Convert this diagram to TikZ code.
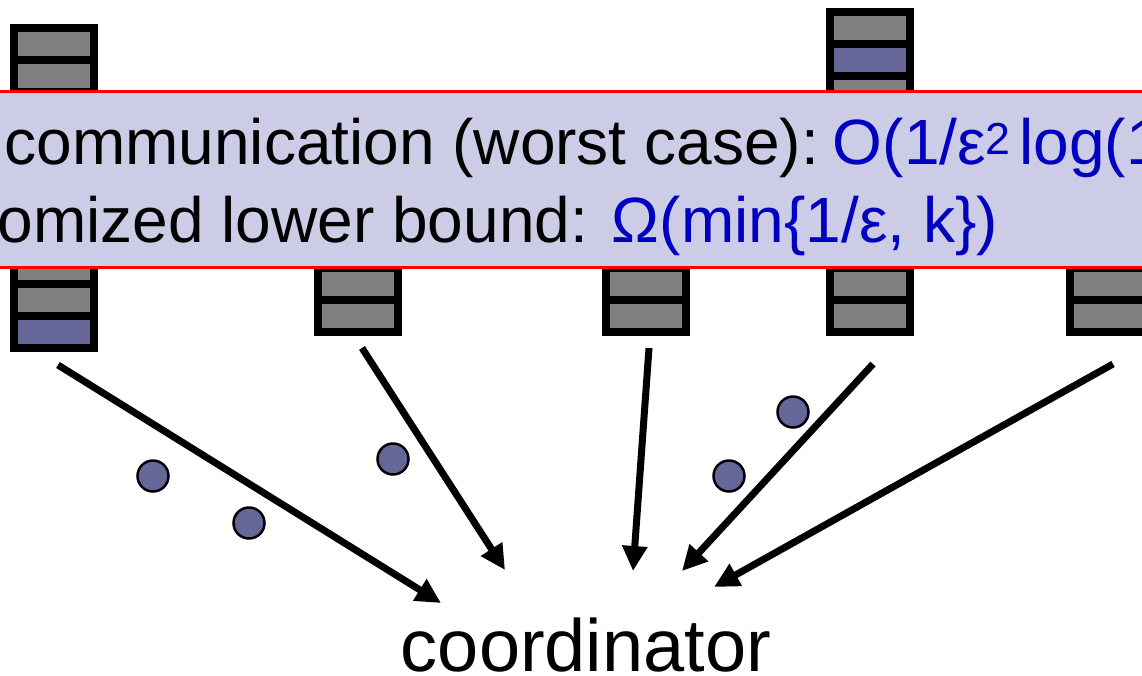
\documentclass[tikz,border=0pt]{standalone}
\usepackage{fontspec}
\setmainfont{Liberation Sans}
\usetikzlibrary{arrows.meta}
\usetikzlibrary{positioning}
\definecolor{slot}{HTML}{808080}
\definecolor{item}{HTML}{666699}
\definecolor{panelfill}{HTML}{CCCCE6}
\definecolor{bound}{RGB}{0,0,192}

\begin{document}
\begin{tikzpicture}[%
        x=1pt, y=-1pt,
        every node/.style={inner sep=0pt, outer sep=0pt},
        cell/.style={rectangle, draw=black, line width=8pt, fill=slot, minimum width=80pt, minimum height=32pt},
        hit/.style={cell, fill=item},
        msg/.style={circle, draw=black, line width=2.5pt, fill=item, minimum size=31pt},
        say/.style={font=\fontsize{64pt}{77pt}\selectfont, anchor=base west},
        send/.style={->, line width=7pt},
        node distance=0pt, >={Triangle[length=25pt,width=24pt]}
      ]
      \useasboundingbox (0,0) rectangle (1142,675);
      \clip (0,0) rectangle (1142,675);
      % site 1
      \node [cell] (a1) at (54,44) {};
      \foreach \i [evaluate=\i as \j using int(\i-1)] in {2,...,9}
        \node [cell, below=of a\j] (a\i) {};
      \node [hit, below=of a9] (a10) {};
      % sites 2, 3, 5
      \node [cell] (b1) at (358,284) {};
      \node [cell, below=of b1] (b2) {};
      \node [cell] (c1) at (646,284) {};
      \node [cell, below=of c1] (c2) {};
      \node [cell] (e1) at (1110,284) {};
      \node [cell, below=of e1] (e2) {};
      % site 4
      \node [cell] (d1) at (870,28) {};
      \node [hit, below=of d1] (d2) {};
      \foreach \i [evaluate=\i as \j using int(\i-1)] in {3,...,10}
        \node [cell, below=of d\j] (d\i) {};
      % banner
      \node [draw=red, line width=3pt, fill=panelfill, minimum width=1200pt, minimum height=176pt] (panel) at (571,179) {};
      \node [say] (upper) at (4.5,164) {communication (worst case):\hspace{14pt}\textcolor{bound}{O(1/ε\textsuperscript{2\hspace{8pt}}log(1}};
      \node [say] (lower) at (-2.3,242) {omized lower bound: \textcolor{bound}{Ω(min\{1/ε, k\})}};
      % messages
      \node [msg] (m1) at (153,476) {};
      \node [msg] (m2) at (249,523) {};
      \node [msg] (m3) at (393,459) {};
      \node [msg] (m4) at (729,476) {};
      \node [msg] (m5) at (793,412) {};
      \node [font=\fontsize{74pt}{88pt}\selectfont, anchor=base] (coord) at (586,671) {coordinator};
      \coordinate (s1) at (58,365);   \coordinate (t1) at (441,603);
      \coordinate (s2) at (362,348);  \coordinate (t2) at (505,570);
      \coordinate (s3) at (649,348);  \coordinate (t3) at (633,571);
      \coordinate (s4) at (873,364);  \coordinate (t4) at (682,571);
      \coordinate (s5) at (1113,364); \coordinate (t5) at (714,587);
      \path [draw] (s1) edge[send] (t1)
      (s2) edge[send] (t2)
      (s3) edge[send] (t3)
      (s4) edge[send] (t4)
      (s5) edge[send] (t5);
\end{tikzpicture}
\end{document}
